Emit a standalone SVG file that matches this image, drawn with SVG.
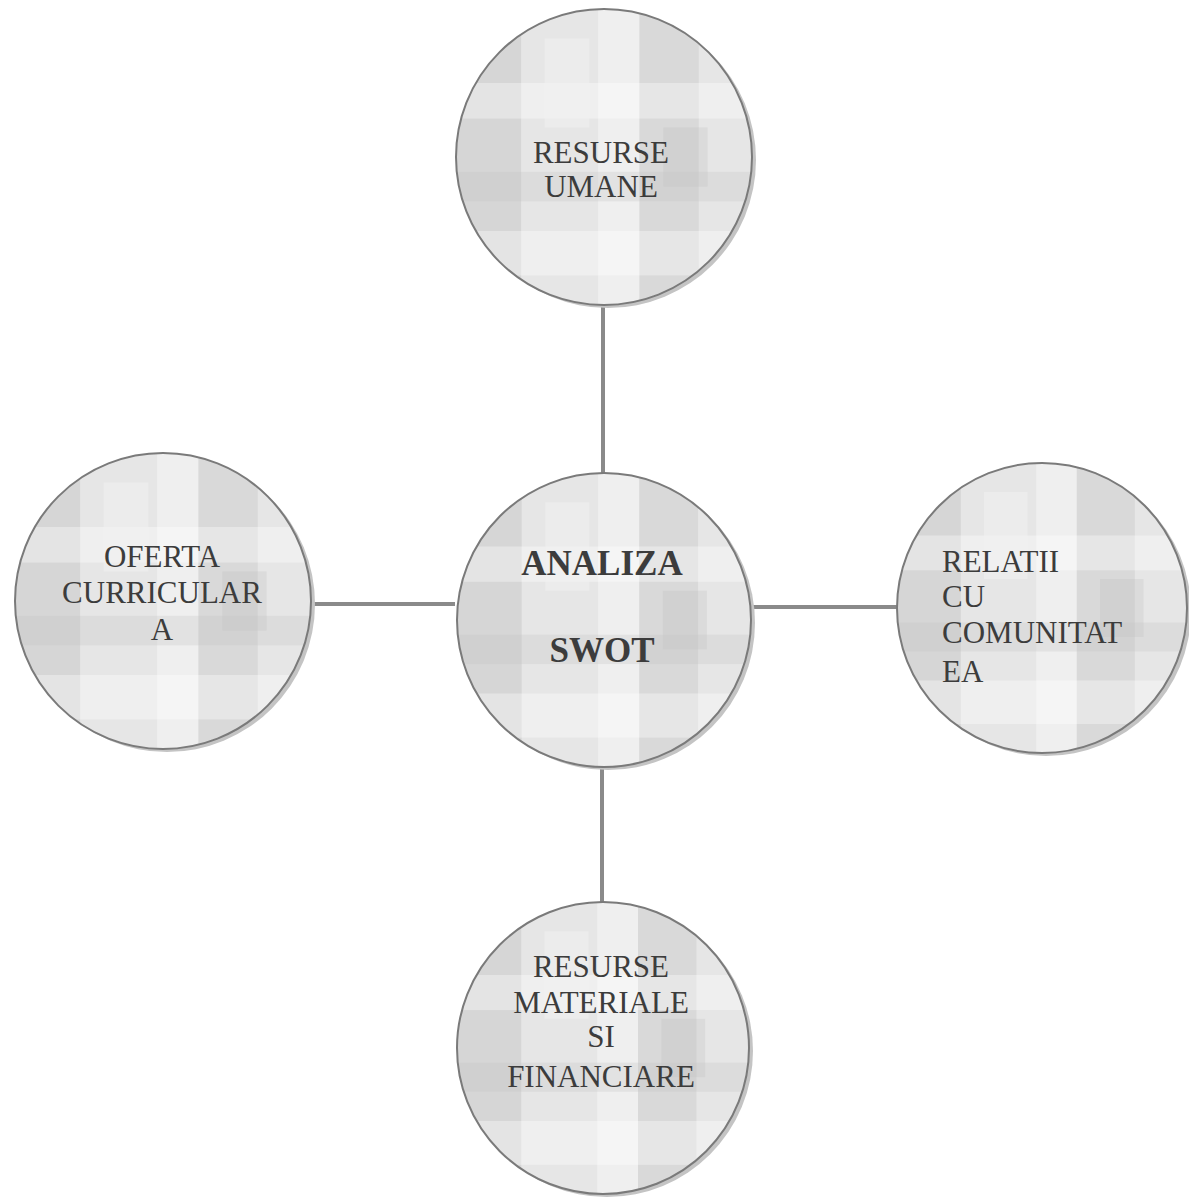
<svg xmlns="http://www.w3.org/2000/svg" width="1189" height="1202" viewBox="0 0 1189 1202">
<style>
.node-bg{fill:url(#tex);stroke:#7a7a7a;stroke-width:2}
.shadow{fill:#c4c4c4}
.conn{stroke:#8a8a8a;stroke-width:4;fill:none}
.lbl{font-family:"Liberation Serif","Times New Roman",serif;font-size:31px;fill:#3c3c3c}
.lbl-b{font-family:"Liberation Serif","Times New Roman",serif;font-size:35px;font-weight:bold;fill:#3c3c3c}
</style>
<defs>
<pattern id="tex" patternUnits="objectBoundingBox" patternContentUnits="objectBoundingBox" width="1" height="1">
<rect x="0" y="0" width="1" height="1" fill="#e6e6e6"/>
<rect x="0" y="0" width="0.22" height="1" fill="#d6d6d6"/>
<rect x="0.48" y="0" width="0.14" height="1" fill="#efefef"/>
<rect x="0.62" y="0" width="0.2" height="1" fill="#d9d9d9"/>
<rect x="0" y="0.25" width="1" height="0.12" fill="#ffffff" opacity="0.35"/>
<rect x="0" y="0.55" width="1" height="0.1" fill="#c4c4c4" opacity="0.3"/>
<rect x="0" y="0.75" width="1" height="0.15" fill="#ffffff" opacity="0.35"/>
<rect x="0.3" y="0.1" width="0.15" height="0.3" fill="#f2f2f2" opacity="0.5"/>
<rect x="0.7" y="0.4" width="0.15" height="0.2" fill="#c0c0c0" opacity="0.3"/>
</pattern>
</defs>
<rect width="1189" height="1202" fill="#ffffff"/>
<g id="connectors">
<line class="conn" x1="603" y1="303" x2="603" y2="473"/>
<line class="conn" x1="312" y1="604" x2="455" y2="604"/>
<line class="conn" x1="753" y1="607" x2="898" y2="607"/>
<line class="conn" x1="602" y1="767" x2="602" y2="903"/>
</g>
<g id="node-resurse-umane">
<circle class="shadow" cx="608" cy="160" r="148"/>
<circle class="node-bg" cx="604" cy="157" r="148"/>
<text class="lbl" x="601" y="163" text-anchor="middle" font-size="28">RESURSE</text>
<text class="lbl" x="601" y="197" text-anchor="middle" font-size="28">UMANE</text>
</g>
<g id="node-oferta">
<circle class="shadow" cx="167" cy="604" r="148"/>
<circle class="node-bg" cx="163" cy="601" r="148"/>
<text class="lbl" x="162" y="567" text-anchor="middle">OFERTA</text>
<text class="lbl" x="162" y="603" text-anchor="middle">CURRICULAR</text>
<text class="lbl" x="162" y="640" text-anchor="middle">A</text>
</g>
<g id="node-analiza">
<circle class="shadow" cx="608" cy="623" r="147"/>
<circle class="node-bg" cx="604" cy="620" r="147"/>
<text class="lbl-b" x="602" y="575" text-anchor="middle">ANALIZA</text>
<text class="lbl-b" x="602" y="662" text-anchor="middle">SWOT</text>
</g>
<g id="node-relatii">
<circle class="shadow" cx="1046" cy="611" r="145"/>
<circle class="node-bg" cx="1042" cy="608" r="145"/>
<text class="lbl" x="942" y="572">RELATII</text>
<text class="lbl" x="942" y="607">CU</text>
<text class="lbl" x="942" y="643">COMUNITAT</text>
<text class="lbl" x="942" y="682">EA</text>
</g>
<g id="node-resurse-materiale">
<circle class="shadow" cx="607" cy="1051" r="146"/>
<circle class="node-bg" cx="603" cy="1048" r="146"/>
<text class="lbl" x="601" y="977" text-anchor="middle">RESURSE</text>
<text class="lbl" x="601" y="1013" text-anchor="middle">MATERIALE</text>
<text class="lbl" x="601" y="1047" text-anchor="middle">SI</text>
<text class="lbl" x="601" y="1087" text-anchor="middle">FINANCIARE</text>
</g>
</svg>
